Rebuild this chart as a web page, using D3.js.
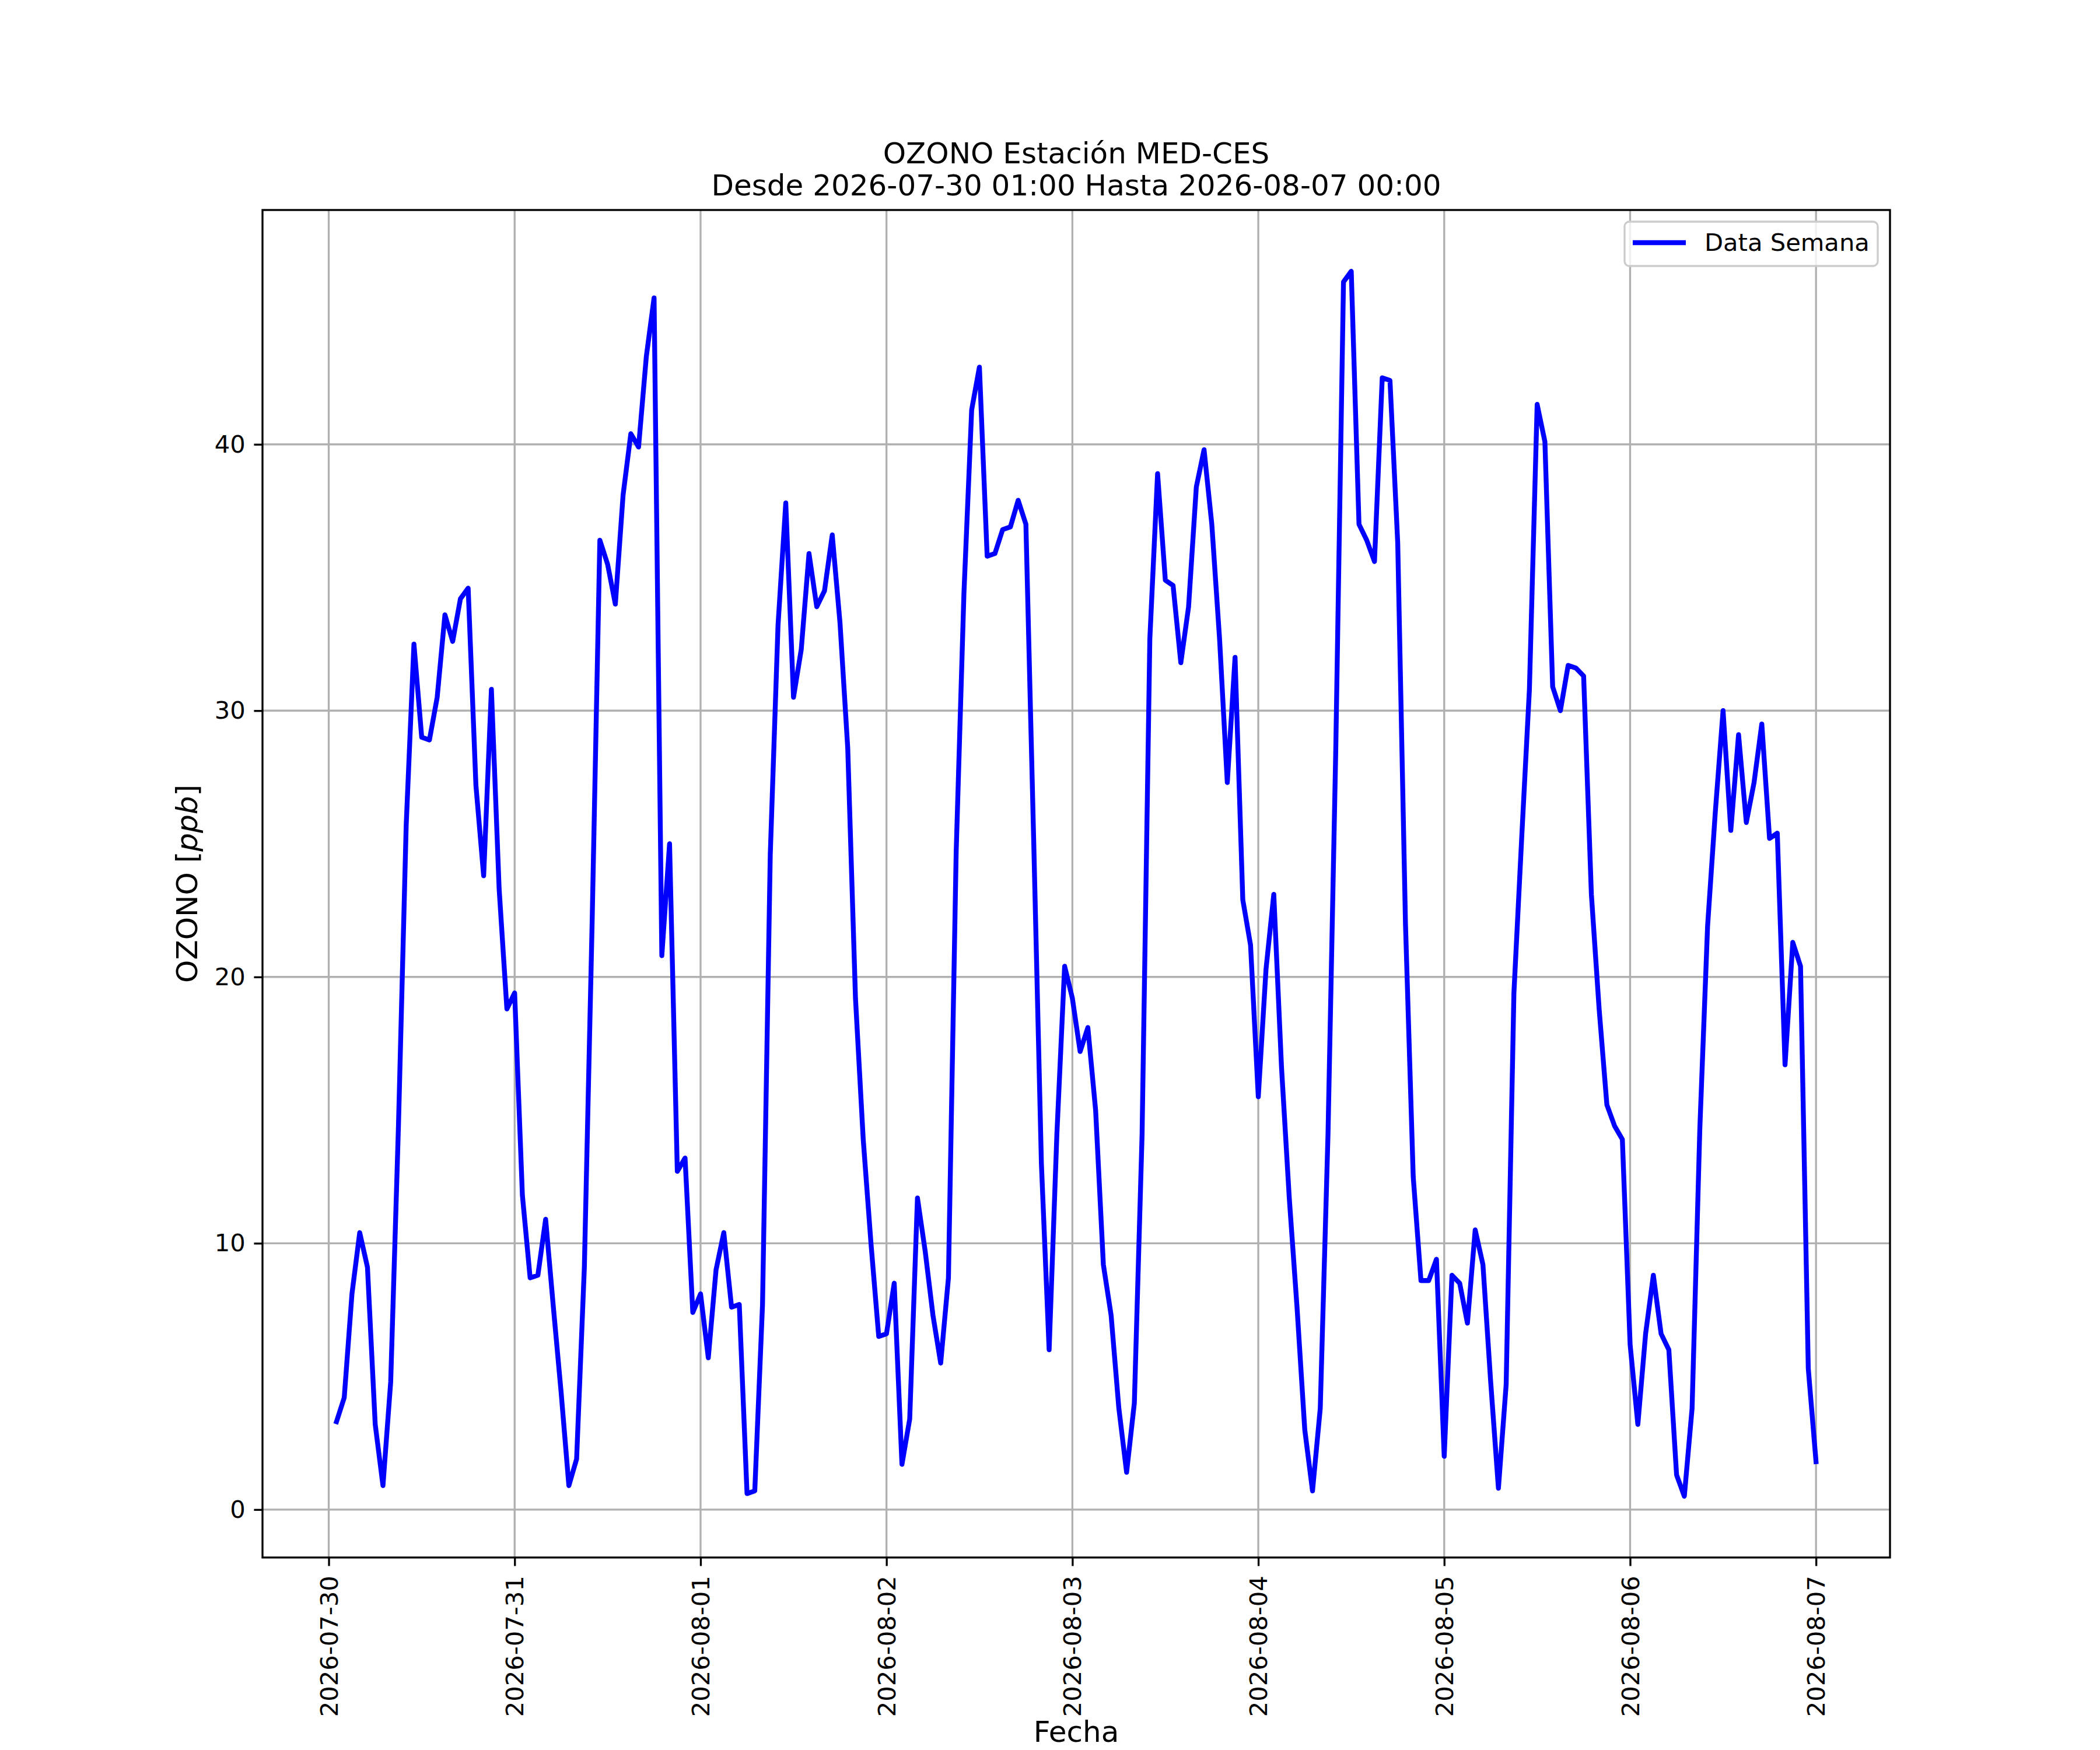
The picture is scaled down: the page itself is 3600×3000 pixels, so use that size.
<!DOCTYPE html>
<html lang="es">
<head>
  <meta charset="UTF-8" />
  <title>OZONO Estación MED-CES</title>
  <script src="https://cdn.jsdelivr.net/npm/d3@7"></script>
  <style>
    html, body {
      margin: 0;
      padding: 0;
      background: #fff;
    }
    svg {
      display: block;
      font-family: "DejaVu Sans", sans-serif;
    }
  </style>
</head>
<body>
  <script>
    // Hourly ozone readings [ppb], each array runs 01:00 .. 24:00 of its day
    const jul30 = [3.3, 4.2, 8.1, 10.4, 9.1, 3.2, 0.9, 4.8, 14.4, 25.7, 32.5, 29.0, 28.9, 30.5, 33.6, 32.6, 34.2, 34.6, 27.2, 23.8, 30.8, 23.3, 18.8, 19.4];
    const jul31 = [11.8, 8.7, 8.8, 10.9, 7.6, 4.4, 0.9, 1.9, 9.1, 22.0, 36.4, 35.5, 34.0, 38.1, 40.4, 39.9, 43.3, 45.5, 20.8, 25.0, 12.7, 13.2, 7.4, 8.1];
    const aug01 = [5.7, 9.0, 10.4, 7.6, 7.7, 0.6, 0.7, 7.7, 24.6, 33.2, 37.8, 30.5, 32.3, 35.9, 33.9, 34.5, 36.6, 33.3, 28.6, 19.2, 13.9, 10.0, 6.5, 6.6];
    const aug02 = [8.5, 1.7, 3.4, 11.7, 9.7, 7.3, 5.5, 8.7, 24.7, 34.4, 41.3, 42.9, 35.8, 35.9, 36.8, 36.9, 37.9, 37.0, 25.2, 13.0, 6.0, 14.1, 20.4, 19.2];
    const aug03 = [17.2, 18.1, 15.0, 9.2, 7.3, 3.8, 1.4, 4.0, 14.1, 32.7, 38.9, 34.9, 34.7, 31.8, 33.9, 38.4, 39.8, 37.0, 32.7, 27.3, 32.0, 22.9, 21.2, 15.5];
    const aug04 = [20.3, 23.1, 16.6, 11.7, 7.6, 3.0, 0.7, 3.8, 14.1, 28.5, 46.1, 46.5, 37.0, 36.4, 35.6, 42.5, 42.4, 36.3, 22.0, 12.5, 8.6, 8.6, 9.4, 2.0];
    const aug05 = [8.8, 8.5, 7.0, 10.5, 9.2, 4.8, 0.8, 4.7, 19.4, 25.2, 30.8, 41.5, 40.1, 30.9, 30.0, 31.7, 31.6, 31.3, 23.1, 18.8, 15.2, 14.4, 13.9, 6.2];
    const aug06 = [3.2, 6.6, 8.8, 6.6, 6.0, 1.3, 0.5, 3.8, 14.3, 21.9, 26.2, 30.0, 25.5, 29.1, 25.8, 27.3, 29.5, 25.2, 25.4, 16.7, 21.3, 20.4, 5.3, 1.8];

    const startTime = "2026-07-30T01:00:00Z";
    const yTicks = [0, 10, 20, 30, 40];
    const titleLines = ["OZONO Estación MED-CES", "Desde 2026-07-30 01:00 Hasta 2026-08-07 00:00"];
    const seriesName = "Data Semana";

    // ---- figure geometry (12x10 in @ 300 dpi) ----
    const W = 3600, H = 3000;
    const pt = 300 / 72;
    const margin = { top: 360, right: 360, bottom: 330, left: 450 };
    const iw = W - margin.left - margin.right;
    const ih = H - margin.top - margin.bottom;

    const values = [].concat(jul30, jul31, aug01, aug02, aug03, aug04, aug05, aug06);
    const t0 = new Date(startTime);
    const data = values.map((v, i) => ({ t: d3.utcHour.offset(t0, i), v }));

    // matplotlib style 5% margins
    const pad = (lo, hi) => { const r = hi - lo; return [lo - 0.05 * r, hi + 0.05 * r]; };
    const tExt = d3.extent(data, d => +d.t);
    const vExt = d3.extent(data, d => d.v);

    const x = d3.scaleUtc()
      .domain(pad(tExt[0], tExt[1]).map(ms => new Date(ms)))
      .range([0, iw]);
    const y = d3.scaleLinear()
      .domain(pad(vExt[0], vExt[1]))
      .range([ih, 0]);

    const svg = d3.select("body").append("svg")
      .attr("width", W)
      .attr("height", H);

    svg.append("rect").attr("width", W).attr("height", H).attr("fill", "#fff");

    const g = svg.append("g").attr("transform", `translate(${margin.left},${margin.top})`);

    const xTicks = x.ticks(d3.utcDay.every(1));

    // grid
    g.append("g").selectAll("line").data(xTicks).join("line")
      .attr("x1", d => x(d)).attr("x2", d => x(d))
      .attr("y1", 0).attr("y2", ih)
      .attr("stroke", "#b0b0b0").attr("stroke-width", 0.8 * pt);
    g.append("g").selectAll("line").data(yTicks).join("line")
      .attr("x1", 0).attr("x2", iw)
      .attr("y1", d => y(d)).attr("y2", d => y(d))
      .attr("stroke", "#b0b0b0").attr("stroke-width", 0.8 * pt);

    // data line
    const line = d3.line().x(d => x(d.t)).y(d => y(d.v));
    g.append("path")
      .datum(data)
      .attr("d", line)
      .attr("fill", "none")
      .attr("stroke", "#0000ff")
      .attr("stroke-width", 2 * pt)
      .attr("stroke-linejoin", "round")
      .attr("stroke-linecap", "square");

    // axes
    const tickLen = 3.5 * pt, tickPad = 3.5 * pt;
    const xAxis = g.append("g")
      .attr("transform", `translate(0,${ih})`)
      .call(d3.axisBottom(x).tickValues(xTicks).tickFormat(d3.utcFormat("%Y-%m-%d"))
        .tickSize(tickLen).tickPadding(tickPad).tickSizeOuter(0));
    xAxis.select(".domain").remove();
    xAxis.selectAll(".tick line").attr("stroke", "#000").attr("stroke-width", 0.8 * pt);
    xAxis.selectAll(".tick text")
      .attr("font-size", 10 * pt)
      .attr("font-family", "DejaVu Sans")
      .attr("fill", "#000")
      .attr("transform", "rotate(-90)")
      .attr("text-anchor", "end")
      .attr("x", -(tickLen + tickPad + 2))
      .attr("y", 0)
      .attr("dy", "0.35em");

    const yAxis = g.append("g")
      .call(d3.axisLeft(y).tickValues(yTicks).tickFormat(d3.format("d"))
        .tickSize(tickLen).tickPadding(tickPad).tickSizeOuter(0));
    yAxis.select(".domain").remove();
    yAxis.selectAll(".tick line").attr("stroke", "#000").attr("stroke-width", 0.8 * pt);
    yAxis.selectAll(".tick text")
      .attr("font-size", 10 * pt)
      .attr("font-family", "DejaVu Sans")
      .attr("fill", "#000");

    // frame
    g.append("rect")
      .attr("width", iw).attr("height", ih)
      .attr("fill", "none")
      .attr("stroke", "#000")
      .attr("stroke-width", 0.8 * pt);

    // title
    svg.append("g").selectAll("text").data(titleLines).join("text")
      .attr("x", margin.left + iw / 2)
      .attr("y", (d, i) => 280 + i * 55)
      .attr("text-anchor", "middle")
      .attr("font-size", 12 * pt)
      .text(d => d);

    // axis labels
    svg.append("text")
      .attr("x", margin.left + iw / 2)
      .attr("y", 2986)
      .attr("text-anchor", "middle")
      .attr("font-size", 12 * pt)
      .text("Fecha");

    const yl = svg.append("text")
      .attr("transform", `translate(338,${margin.top + ih / 2}) rotate(-90)`)
      .attr("text-anchor", "middle")
      .attr("font-size", 12 * pt);
    yl.append("tspan").text("OZONO [");
    yl.append("tspan").attr("font-style", "italic").text("ppb");
    yl.append("tspan").text("]");

    // legend
    const lg = svg.append("g");
    lg.append("rect")
      .attr("x", 2785).attr("y", 380)
      .attr("width", 434).attr("height", 76)
      .attr("rx", 8).attr("ry", 8)
      .attr("fill", "#fff").attr("fill-opacity", 0.8)
      .attr("stroke", "#cccccc").attr("stroke-width", 0.8 * pt);
    lg.append("line")
      .attr("x1", 2799).attr("x2", 2890)
      .attr("y1", 416).attr("y2", 416)
      .attr("stroke", "#0000ff").attr("stroke-width", 2 * pt);
    lg.append("text")
      .attr("x", 2922).attr("y", 430)
      .attr("font-size", 10 * pt)
      .text(seriesName);
  </script>
</body>
</html>
